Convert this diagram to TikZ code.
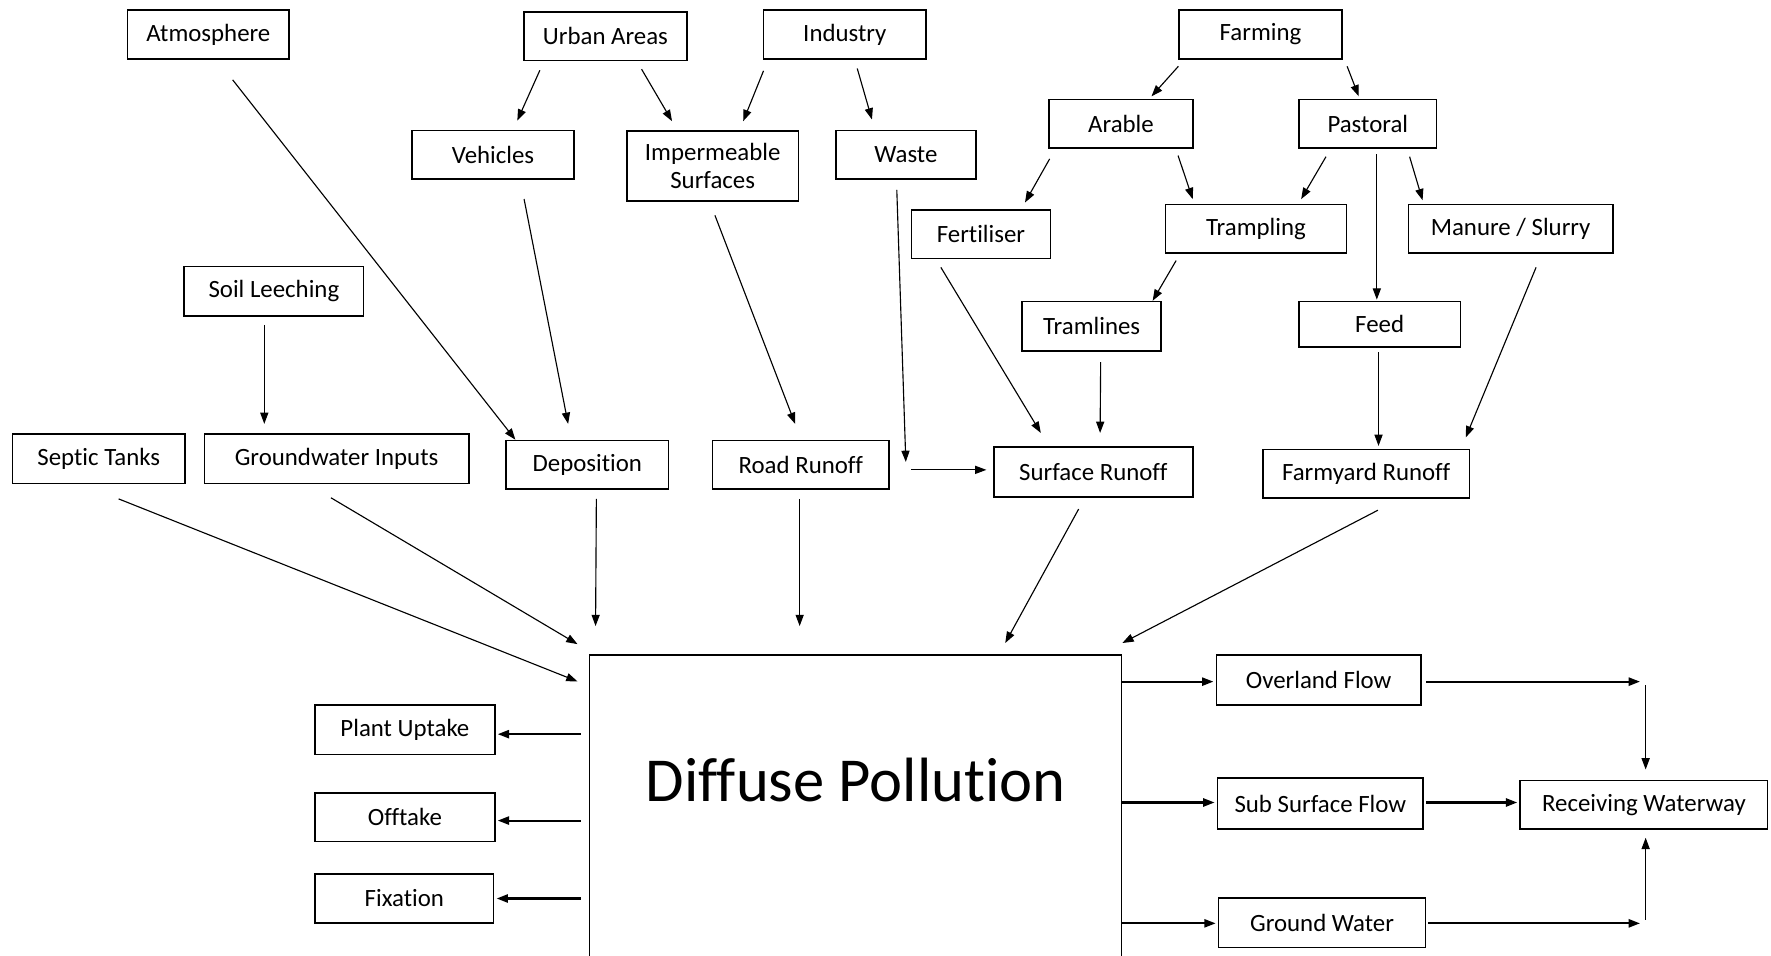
\documentclass[tikz,border=0pt]{standalone}
\usepackage{fontspec}
\setmainfont{Carlito}[Ligatures=CommonOff]
\usetikzlibrary{arrows.meta, positioning, calc}

\begin{document}
\begin{tikzpicture}[x=0.5pt, y=-0.5pt,
  blk/.style={draw, line width=0.7pt, minimum height=21.5pt, inner sep=1pt, align=center, font=\fontsize{11}{12.5}\selectfont},
  arr/.style={-{Triangle[length=5pt, width=3.6pt]}, line width=0.5pt},
  arrb/.style={arr, line width=0.9pt}]
  \clip (0,0) rectangle (1568,846);

  % top sources
  \node[blk, minimum width=71.5pt] (atm) at (184.5,30.5) {Atmosphere};
  \node[blk, minimum width=72pt] (urban) at (536,32) {Urban Areas};
  \node[blk, minimum width=72pt] (ind) at (748,30.5) {Industry};
  \node[blk, minimum width=72pt] (farm) at (1116,30.5) {Farming};

  \node[blk, minimum width=71.5pt] (veh) at (436.5,137) {Vehicles};
  \node[blk, minimum width=76pt, minimum height=31pt] (imp) at (631,147) {Impermeable\\Surfaces};
  \node[blk, minimum width=62pt] (waste) at (802,137) {Waste};
  \node[blk, minimum width=63.5pt] (arable) at (992.5,109.5) {Arable};
  \node[blk, minimum width=61pt] (past) at (1211,109.5) {Pastoral};

  \node[blk, minimum width=61.5pt] (fert) at (868.5,207.5) {Fertiliser};
  \node[blk, minimum width=80pt] (tramp) at (1112,202.5) {Trampling};
  \node[blk, minimum width=90.5pt] (manure) at (1337.5,202.5) {Manure / Slurry};
  \node[blk, minimum width=79.5pt, minimum height=22pt] (soil) at (242.5,258) {Soil Leeching};
  \node[blk, minimum width=61.5pt, minimum height=22pt] (traml) at (966.5,289) {Tramlines};
  \node[blk, minimum width=71.5pt, minimum height=20pt] (feed) at (1221.5,287) {Feed};

  % pathways
  \node[blk, minimum width=76.5pt, minimum height=22pt] (septic) at (87.5,406) {Septic Tanks};
  \node[blk, minimum width=117pt, minimum height=22pt] (gwin) at (298,406) {Groundwater Inputs};
  \node[blk, minimum width=72pt] (dep) at (520,411.5) {Deposition};
  \node[blk, minimum width=78pt] (road) at (709,411.5) {Road Runoff};
  \node[blk, minimum width=88pt, minimum height=22pt] (surf) at (968,418) {Surface Runoff};
  \node[blk, minimum width=91.5pt] (farmy) at (1209.5,419.5) {Farmyard Runoff};

  % central box
  \node[draw, line width=0.7pt, minimum width=235.5pt, minimum height=145pt, font=\fontsize{27.7}{32}\selectfont] (diff) at (757.5,725) {\raisebox{7.5pt}[0pt][0pt]{Diffuse Pollution}};

  % sinks and outputs
  \node[blk, minimum width=79.5pt, minimum height=22pt] (plant) at (358.5,646) {Plant Uptake};
  \node[blk, minimum width=79.5pt] (offt) at (358.5,723.5) {Offtake};
  \node[blk, minimum width=79pt] (fix) at (358,795.5) {Fixation};
  \node[blk, minimum width=90.5pt, minimum height=22pt] (over) at (1167.5,602) {Overland Flow};
  \node[blk, minimum width=91pt, minimum height=22.5pt] (subs) at (1169,711.5) {Sub Surface Flow};
  \node[blk, minimum width=91.5pt, minimum height=22pt] (gwat) at (1170.5,817) {Ground Water};
  \node[blk, minimum width=109.5pt] (recv) at (1455.5,712.5) {Receiving Waterway};

  \coordinate (wb) at (802,409);
  \coordinate (oc) at (1455,603.5);
  \coordinate (gc) at (1455,817.5);

  % upper arrows
  \draw[arr] ($(atm.south)+(21.5,18)$) -- ($(dep.north west)+(9,0)$);
  \draw[arr] ($(urban.south)+(-58,8)$) -- ($(veh.north)+(21.5,-8)$);
  \draw[arr] ($(urban.south)+(32,7)$) -- ($(imp.north)+(-36,-8)$);
  \draw[arr] ($(ind.south)+(-72,10)$) -- ($(imp.north)+(27,-8)$);
  \draw[arr] ($(ind.south)+(11,8)$) -- ($(waste.north)+(-30,-9)$);
  \draw[arr] ($(veh.south)+(27.5,17)$) -- ($(dep.north)+(-17,-14)$);
  \draw[arr] ($(imp.south)+(2,12)$) -- ($(road.north)+(-5,-14)$);
  \draw[arr] ($(waste.south)+(-8,9)$) -- (wb);
  \draw[arr] ($(wb)+(5,7)$) -- ($(surf.west)+(-6,-2)$);
  \draw[arr] ($(soil.south)+(-8.5,7)$) -- ($(gwin.north)+(-64,-8)$);
  \draw[arr] ($(farm.south west)+(0,6)$) -- ($(arable.north)+(27,-2)$);
  \draw[arr] ($(farm.south east)+(4,6)$) -- ($(past.north)+(-8,-2)$);
  \draw[arr] ($(arable.south west)+(1,9)$) -- ($(fert.north)+(39,-6)$);
  \draw[arr] ($(arable.south)+(50.5,6)$) -- ($(tramp.north)+(-56,-4)$);
  \draw[arr] ($(past.south)+(-37,7)$) -- ($(tramp.north)+(40,-4)$);
  \draw[arr] ($(past.south)+(8,5)$) -- ($(feed.north)+(-2.5,-1)$);
  \draw[arr] ($(past.south)+(37,7)$) -- ($(manure.north)+(-78,-3)$);
  \draw[arr] ($(fert.south)+(-35.5,7)$) -- ($(surf.north)+(-46.5,-12)$);
  \draw[arr] ($(tramp.south west)+(10,6)$) -- ($(traml.north)+(54,0)$);
  \draw[arr] ($(traml.south)+(8,9)$) -- ($(surf.north)+(6,-12)$);
  \draw[arr] ($(feed.south)+(-1,4)$) -- ($(farmy.north)+(11,-2.5)$);
  \draw[arr] ($(manure.south)+(22.5,12)$) -- ($(farmy.north east)+(-4,-10)$);

  % into diffuse pollution
  \draw[arr] ($(septic.south)+(17.5,13)$) -- ($(diff.north west)+(-10,24)$);
  \draw[arr] ($(gwin.south)+(-5,12)$) -- ($(diff.north west)+(-10,-9)$);
  \draw[arr] ($(dep.south)+(8,8)$) -- ($(diff.north west)+(6,-25)$);
  \draw[arr] ($(road.south)+(-1,8)$) -- ($(diff.north)+(-49.5,-25)$);
  \draw[arr] ($(surf.south)+(-13,10)$) -- ($(diff.north)+(132.5,-10)$);
  \draw[arr] ($(farmy.south)+(10.5,10)$) -- ($(diff.north east)+(0,-10)$);

  % out of diffuse pollution
  \draw[arrb] (diff.west |- plant.east) ++(-7,4) -- ($(plant.east)+(2,4)$);
  \draw[arrb] (diff.west |- offt.east) ++(-7,3) -- ($(offt.east)+(2,3)$);
  \draw[arrb] (diff.west |- fix.east) ++(-7,0) -- ($(fix.east)+(2,0)$);
  \draw[arrb] (diff.east |- over.west) ++(0,1.5) -- ($(over.west)+(-2,1.5)$);
  \draw[arrb] (diff.east |- subs.west) ++(0,-1) -- ($(subs.west)+(-2,-1)$);
  \draw[arrb] (diff.east |- gwat.west) ++(0,0.5) -- ($(gwat.west)+(-2,0.5)$);

  % to receiving waterway
  \draw[arrb] ($(over.east)+(4,1.5)$) -- ($(oc)+(-3,0)$);
  \draw[arr] ($(oc)+(2,3)$) -- ($(recv.north)+(1.5,-9)$);
  \draw[arrb] ($(subs.east)+(2,-1)$) -- ($(recv.west)+(-2,-2)$);
  \draw[arrb] ($(gwat.east)+(2,0.5)$) -- ($(gc)+(-3,0)$);
  \draw[arr] ($(gc)+(2,-3)$) -- ($(recv.south)+(1.5,7)$);
\end{tikzpicture}
\end{document}
